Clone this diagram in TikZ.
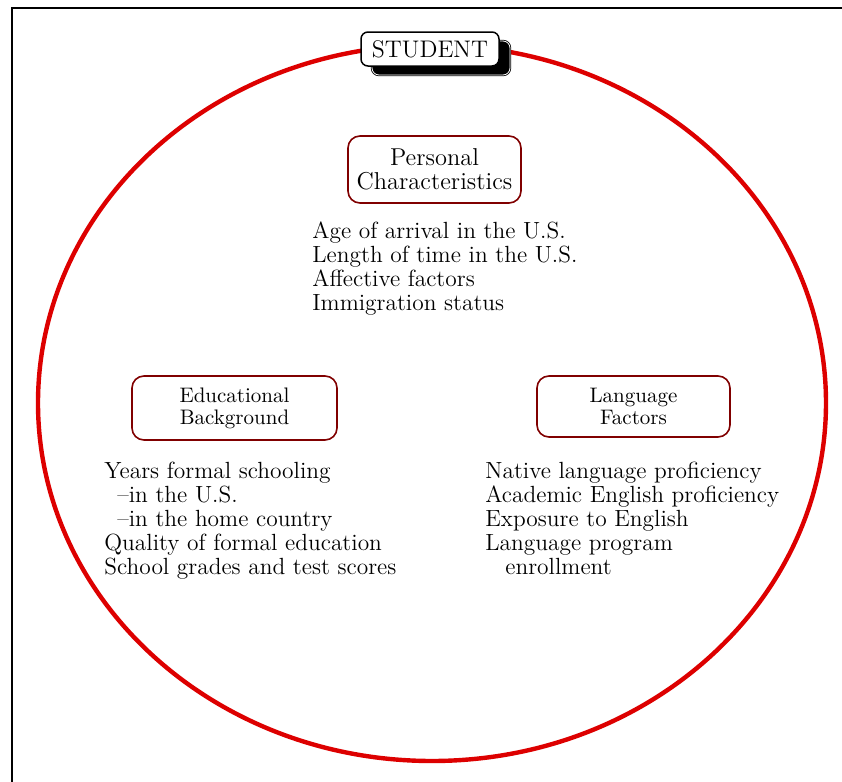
\documentclass[tikz,border=0pt]{standalone}
\usetikzlibrary{shadows}
\definecolor{ringred}{RGB}{221,0,0}
\definecolor{boxred}{RGB}{128,0,0}
\begin{document}
\begin{tikzpicture}[x=0.5pt,y=-0.5pt,
  frameline/.style={draw=black,line width=1pt},
  ring/.style={draw=ringred,line width=2.2pt},
  titlebox/.style={draw=black,fill=white,line width=0.75pt,rounded corners=3.5pt,
    minimum width=69pt,minimum height=17pt,inner sep=0pt,
    font=\fontsize{12}{12}\selectfont,
    drop shadow={shadow xshift=5.5pt,shadow yshift=-4.5pt,fill=black,opacity=1,
      draw=black,double=white,double distance=0.4pt,line width=0.4pt}},
  catbox/.style={draw=boxred,line width=0.8pt,rounded corners=6pt,align=center,inner sep=0pt},
  biglabel/.style={font=\fontsize{12.2}{12}\selectfont},
  smalllabel/.style={font=\fontsize{10.5}{11}\selectfont},
  listtext/.style={anchor=north west,align=left,inner sep=0pt,font=\fontsize{11.7}{12}\selectfont}]
\useasboundingbox (0,0) rectangle (842,782);
\draw[frameline] (12,782) -- (12,8) -- (842,8);
\draw[ring] (432,403) ellipse [x radius=394, y radius=358];
\node[titlebox] (student) at (430,49) {STUDENT};
\node[catbox,biglabel,minimum width=86.5pt,minimum height=33.5pt] (personal) at (434.5,169.5) {Personal\\Characteristics};
\node[catbox,smalllabel,minimum width=102.5pt,minimum height=32pt] (educ) at (234.5,408) {Educational\\Background};
\node[catbox,smalllabel,minimum width=96.5pt,minimum height=30.5pt] (lang) at (633.5,406.5) {Language\\Factors};
\node[listtext] (plist) at (312,221) {Age of arrival in the U.S.\\Length of time in the U.S.\\Affective factors\\Immigration status};
\node[listtext] (elist) at (104,462) {Years formal schooling\\\hspace*{6.5pt}--in the U.S.\\\hspace*{6.5pt}--in the home country\\Quality of formal education\\School grades and test scores};
\node[listtext] (llist) at (485,462) {Native language proficiency\\Academic English proficiency\\Exposure to English\\Language program\\\hspace*{10pt}enrollment};
\end{tikzpicture}
\end{document}
